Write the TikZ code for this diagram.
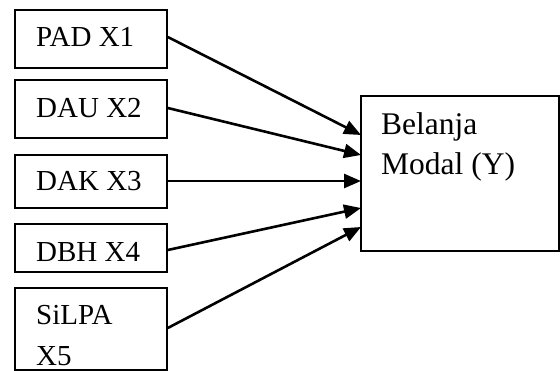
\documentclass[tikz,border=0pt]{standalone}
\usepackage{fontspec}
\setmainfont{Liberation Serif}
\usetikzlibrary{arrows.meta,positioning}
\tikzset{
  box/.style={draw=black, line width=1.6pt, rectangle, inner sep=0pt},
  lbl/.style={anchor=base west, inner sep=0pt, font=\fontsize{29}{41}\selectfont},
  biglbl/.style={lbl, font=\fontsize{31.5}{41}\selectfont},
  conn/.style={line width=2.6pt, -{Triangle[length=17pt,width=14pt]}}
}
\begin{document}
\begin{tikzpicture}[x=1pt,y=-1pt]
  \useasboundingbox (0,0) rectangle (560,371);
  % input boxes
  \node[box, minimum width=152pt, minimum height=58pt] (b1) at (91,39) {};
  \node[box, minimum width=152pt, minimum height=58pt] (b2) at (91,109) {};
  \node[box, minimum width=152pt, minimum height=53pt] (b3) at (91,181.5) {};
  \node[box, minimum width=152pt, minimum height=48pt] (b4) at (91,248) {};
  \node[box, minimum width=152pt, minimum height=82pt] (b5) at (91,329) {};
  % output box
  \node[box, minimum width=198pt, minimum height=155pt] (y) at (460,173.5) {};
  % labels
  \node[lbl] (t1) at (36,47) {PAD X1};
  \node[lbl] (t2) at (36,118) {DAU X2};
  \node[lbl] (t3) at (36,191) {DAK X3};
  \node[lbl] (t4) at (36,262) {DBH X4};
  \node[lbl] (t5a) at (36,325) {SiLPA};
  \node[lbl] (t5b) at (36,366) {X5};
  \node[biglbl] (ty1) at (381,135) {Belanja};
  \node[biglbl] (ty2) at (381,175) {Modal (Y)};
  % connectors
  \coordinate (e1) at (361,135);
  \coordinate (e2) at (361,155);
  \coordinate (e3) at (361,181);
  \coordinate (e4) at (361,208);
  \coordinate (e5) at (361,227);
  \draw[conn] (b1.east |- 0,37) -- (e1);
  \draw[conn] (b2.east |- 0,108) -- (e2);
  \draw[conn] (b3.east |- 0,181) -- (e3);
  \draw[conn] (b4.east |- 0,250) -- (e4);
  \draw[conn] (b5.east |- 0,328) -- (e5);
\end{tikzpicture}
\end{document}
